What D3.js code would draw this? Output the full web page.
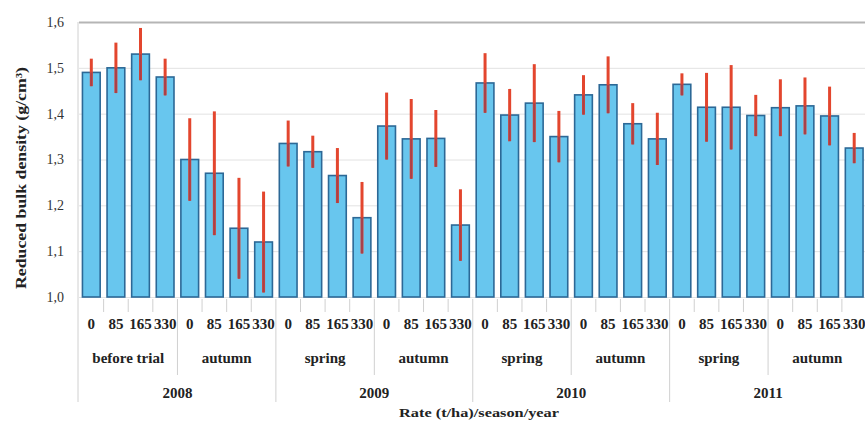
<!DOCTYPE html>
<html>
<head>
<meta charset="utf-8">
<script src="https://cdn.jsdelivr.net/npm/d3@7"></script>
<style>
  html, body { margin: 0; padding: 0; background: #ffffff; }
  svg { display: block; }
  text { font-family: "Liberation Serif", "Times New Roman", serif; }
</style>
</head>
<body>
<svg id="chart" width="865" height="423"></svg>
<script>
// ---- data ----
const rates   = ["0", "85", "165", "330"];
const seasons = ["before trial", "autumn", "spring", "autumn", "spring", "autumn", "spring", "autumn"];
const years   = ["2008", "2009", "2010", "2011"];
const means   = [1.49, 1.50, 1.53, 1.48,  1.30, 1.27, 1.15, 1.12,
                 1.335, 1.317, 1.265, 1.173, 1.373, 1.345, 1.346, 1.157,
                 1.467, 1.397, 1.423, 1.35,  1.441, 1.463, 1.378, 1.345,
                 1.464, 1.414, 1.414, 1.396, 1.413, 1.417, 1.395, 1.325];
const errs    = [0.03, 0.055, 0.057, 0.04, 0.09, 0.135, 0.11, 0.11,
                 0.05, 0.035, 0.06, 0.078, 0.073, 0.087, 0.062, 0.078,
                 0.065, 0.057, 0.085, 0.056, 0.043, 0.062, 0.045, 0.057,
                 0.024, 0.075, 0.092, 0.045, 0.062, 0.062, 0.064, 0.033];
const yTicks  = [1.0, 1.1, 1.2, 1.3, 1.4, 1.5, 1.6];

// ---- layout ----
const svg = d3.select("#chart");
const pLeft = 79, pRight = 866.5, pTop = 22, pBottom = 297;

const x = d3.scaleBand().domain(d3.range(means.length)).range([pLeft, pRight])
  .paddingInner(0.28).paddingOuter(0.14);
const y = d3.scaleLinear().domain([1.0, 1.6]).range([pBottom, pTop]);
const step = x.step();
const xEdge = i => x(i) - x.paddingInner() * step / 2; // left boundary of category i

// gridlines
const grid = svg.append("g").attr("transform", `translate(${pLeft},0)`)
  .call(d3.axisLeft(y).tickValues(yTicks).tickSize(-(865 - pLeft + 5)).tickFormat(""));
grid.select(".domain").remove();
grid.selectAll(".tick line").attr("stroke", d => d === 1.6 ? "#b5b5b5" : "#e2e2e2")
  .attr("stroke-width", d => d === 1.6 ? 2 : 1);

// y axis labels
const yAx = svg.append("g").attr("transform", `translate(${pLeft - 12},0)`)
  .call(d3.axisLeft(y).tickValues(yTicks).tickSize(0)
    .tickFormat(d => d3.format(".1f")(d).replace(".", ",")));
yAx.select(".domain").remove();
yAx.selectAll("text").attr("font-size", 14).attr("fill", "#333")
  .attr("font-family", "Liberation Serif, serif");

// left boundary line
svg.append("line").attr("x1", pLeft - 1).attr("x2", pLeft - 1).attr("y1", pTop).attr("y2", 402)
  .attr("stroke", "#d0d0d0").attr("stroke-width", 1);

// bars
svg.append("g").selectAll("rect").data(means).join("rect")
  .attr("x", (d, i) => x(i)).attr("width", x.bandwidth())
  .attr("y", d => y(d)).attr("height", d => y(1.0) - y(d))
  .attr("fill", "#68c6ee").attr("stroke", "#2c6896").attr("stroke-width", 1.6);

// error bars
svg.append("g").selectAll("line").data(means).join("line")
  .attr("x1", (d, i) => x(i) + x.bandwidth() / 2).attr("x2", (d, i) => x(i) + x.bandwidth() / 2)
  .attr("y1", (d, i) => y(d + errs[i])).attr("y2", (d, i) => y(Math.max(1.0, d - errs[i])))
  .attr("stroke", "#e3462e").attr("stroke-width", 3);
svg.append("g").selectAll("line").data(means).join("line")
  .attr("x1", (d, i) => x(i) + x.bandwidth() / 2).attr("x2", (d, i) => x(i) + x.bandwidth() / 2)
  .attr("y1", (d, i) => y(d)).attr("y2", (d, i) => y(Math.max(1.0, d - errs[i])))
  .attr("stroke", "#a8404a").attr("stroke-width", 2);

// x axis: rate labels
const xAx = svg.append("g").attr("transform", `translate(0,${pBottom})`)
  .call(d3.axisBottom(x).tickSize(0).tickPadding(21).tickFormat(i => rates[i % rates.length]));
xAx.select(".domain").remove();
xAx.selectAll("text").attr("font-size", 15).attr("font-weight", "bold").attr("fill", "#222")
  .attr("font-family", "Liberation Serif, serif");

// separators
const sep = svg.append("g").attr("stroke", "#d0d0d0").attr("stroke-width", 1);
for (let i = 1; i < means.length; i++) {
  let y2 = 312;
  if (i % 4 === 0) y2 = 375;
  if (i % 8 === 0) y2 = 402;
  const xx = xEdge(i);
  sep.append("line").attr("x1", xx).attr("x2", xx).attr("y1", pBottom + 2).attr("y2", y2);
}

// season labels
svg.append("g").selectAll("text").data(seasons).join("text")
  .attr("x", (d, s) => xEdge(s * 4) + 2 * step)
  .attr("y", 363).attr("text-anchor", "middle")
  .attr("font-size", 15).attr("font-weight", "bold").attr("fill", "#222")
  .text(d => d);

// year labels
svg.append("g").selectAll("text").data(years).join("text")
  .attr("x", (d, k) => xEdge(k * 8) + 4 * step)
  .attr("y", 398).attr("text-anchor", "middle")
  .attr("font-size", 15).attr("font-weight", "bold").attr("fill", "#222")
  .text(d => d);

// axis titles
svg.append("text").attr("x", 479).attr("y", 417).attr("text-anchor", "middle")
  .attr("font-size", 13).attr("font-weight", "bold").attr("fill", "#222")
  .attr("textLength", 160).attr("lengthAdjust", "spacingAndGlyphs")
  .text("Rate (t/ha)/season/year");

svg.append("text").attr("transform", "translate(26,178) rotate(-90)")
  .attr("text-anchor", "middle")
  .attr("font-size", 14).attr("font-weight", "bold").attr("fill", "#222")
  .attr("textLength", 222).attr("lengthAdjust", "spacingAndGlyphs")
  .text("Reduced bulk density (g/cm³)");
</script>
</body>
</html>
